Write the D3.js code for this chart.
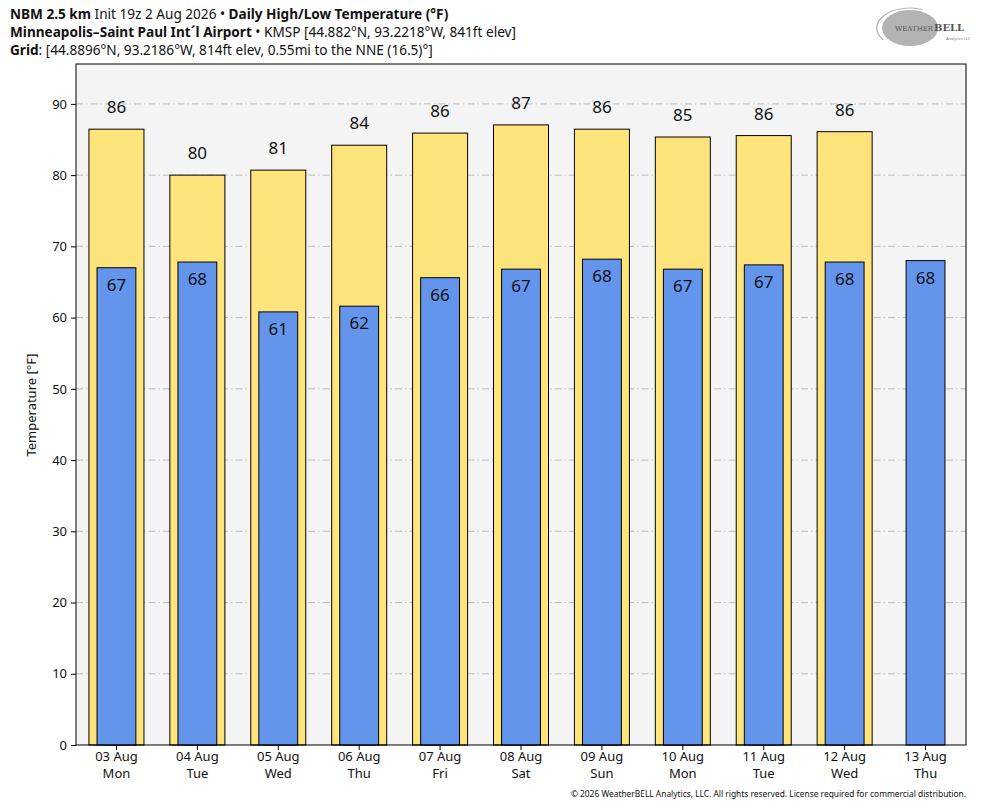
<!DOCTYPE html>
<html><head><meta charset="utf-8">
<script src="https://cdn.jsdelivr.net/npm/d3@7"></script>
<style>body{margin:0;background:#fff;font-family:"Noto Sans",sans-serif;}</style>
</head><body>
<svg id="c" width="984" height="808"></svg>
<script>
const dates = ["03 Aug","04 Aug","05 Aug","06 Aug","07 Aug","08 Aug","09 Aug","10 Aug","11 Aug","12 Aug","13 Aug"];
const days = ["Mon","Tue","Wed","Thu","Fri","Sat","Sun","Mon","Tue","Wed","Thu"];
const highs = [86.45,80.0,80.7,84.2,85.9,87.05,86.45,85.35,85.55,86.1,null];
const lows = [67.0,67.8,60.8,61.6,65.6,66.8,68.2,66.8,67.4,67.8,68.0];
const yTicks = [0,10,20,30,40,50,60,70,80,90];

const svg = d3.select("#c");
const L=76,R=966,T=64,B=745;
const x = d3.scaleBand().domain(d3.range(dates.length)).range([L,R]).padding(0);
const y = d3.scaleLinear().domain([0,95.6]).range([B,T]);
const bw = x.bandwidth();

svg.append("rect").attr("x",L).attr("y",T).attr("width",R-L).attr("height",B-T).attr("fill","#f4f4f4");
svg.append("g").selectAll("line").data(yTicks.filter(d=>d>0)).join("line")
  .attr("x1",L).attr("x2",R).attr("y1",d=>y(d)).attr("y2",d=>y(d))
  .attr("stroke","#bdbdbd").attr("stroke-width",1).attr("stroke-dasharray","7,3,1.5,3");

const hw = bw*0.68, lw = bw*0.48;
svg.append("g").selectAll("rect").data(highs.map((v,i)=>({v,i})).filter(d=>d.v!=null)).join("rect")
  .attr("x",d=>x(d.i)+bw/2-hw/2).attr("width",hw).attr("y",d=>y(d.v)).attr("height",d=>y(0)-y(d.v))
  .attr("fill","#ffe47c").attr("stroke","#000").attr("stroke-width",1);
svg.append("g").selectAll("rect").data(lows.map((v,i)=>({v,i}))).join("rect")
  .attr("x",d=>x(d.i)+bw/2-lw/2).attr("width",lw).attr("y",d=>y(d.v)).attr("height",d=>y(0)-y(d.v))
  .attr("fill","#6495ed").attr("stroke","#000").attr("stroke-width",1);

svg.append("g").selectAll("text").data(highs.map((v,i)=>({v,i})).filter(d=>d.v!=null)).join("text")
  .attr("x",d=>x(d.i)+bw/2).attr("y",d=>y(d.v)-16).attr("text-anchor","middle")
  .attr("font-size",17).attr("fill","#111").text(d=>Math.round(d.v));
svg.append("g").selectAll("text").data(lows.map((v,i)=>({v,i}))).join("text")
  .attr("x",d=>x(d.i)+bw/2).attr("y",d=>y(d.v)+23).attr("text-anchor","middle")
  .attr("font-size",17).attr("fill","#111").text(d=>Math.round(d.v));

svg.append("rect").attr("x",L).attr("y",T).attr("width",R-L).attr("height",B-T).attr("fill","none").attr("stroke","#000").attr("stroke-width",1);

const ya = svg.append("g").attr("transform",`translate(${L},0)`).call(d3.axisLeft(y).tickValues(yTicks).tickSize(5).tickPadding(4));
ya.select(".domain").remove();
ya.selectAll("text").attr("font-size",13).attr("font-family","Noto Sans").attr("fill","#111");
const xa = svg.append("g").attr("transform",`translate(0,${B})`).call(d3.axisBottom(x).tickSize(5).tickFormat(""));
xa.select(".domain").remove();
const xl = svg.append("g");
xl.selectAll("text.d").data(dates).join("text").attr("class","d")
  .attr("x",(d,i)=>x(i)+bw/2).attr("y",761).attr("text-anchor","middle").attr("font-size",13).attr("fill","#111").text(d=>d);
xl.selectAll("text.w").data(days).join("text").attr("class","w")
  .attr("x",(d,i)=>x(i)+bw/2).attr("y",778).attr("text-anchor","middle").attr("font-size",13).attr("fill","#111").text(d=>d);
svg.append("text").attr("transform","translate(36,405) rotate(-90)").attr("text-anchor","middle")
  .attr("font-size",13).attr("fill","#111").text("Temperature [°F]");

const t1 = svg.append("text").attr("x",10).attr("y",19).attr("font-size",13.6).attr("fill","#111");
t1.append("tspan").attr("font-weight","bold").text("NBM 2.5 km");
t1.append("tspan").text(" Init 19z 2 Aug 2026 • ");
t1.append("tspan").attr("font-weight","bold").text("Daily High/Low Temperature (°F)");
const t2 = svg.append("text").attr("x",10).attr("y",37).attr("font-size",13.6).attr("fill","#111");
t2.append("tspan").attr("font-weight","bold").text("Minneapolis–Saint Paul Int´l Airport");
t2.append("tspan").text(" • KMSP [44.882°N, 93.2218°W, 841ft elev]");
const t3 = svg.append("text").attr("x",10).attr("y",55).attr("font-size",13.6).attr("fill","#111");
t3.append("tspan").attr("font-weight","bold").text("Grid");
t3.append("tspan").text(": [44.8896°N, 93.2186°W, 814ft elev, 0.55mi to the NNE (16.5)°]");

svg.append("text").attr("x",966).attr("y",797).attr("text-anchor","end").attr("font-size",8.4).attr("fill","#111")
  .text("© 2026 WeatherBELL Analytics, LLC. All rights reserved. License required for commercial distribution.");

// logo
const lg = svg.append("g").attr("transform","translate(910,28)");
lg.append("ellipse").attr("rx",28).attr("ry",18).attr("fill","#9a9a9a").attr("opacity",0.75);
[34,26,19].forEach((r,i)=>lg.append("path").attr("d",d3.arc()({innerRadius:r-1.5,outerRadius:r,startAngle:-2.2+i*0.3,endAngle:0.4+i*0.2}))
  .attr("transform","scale(1,0.6)").attr("fill","#b5b5b5"));
lg.append("text").attr("x",-15).attr("y",3).attr("font-size",7).attr("font-family","DejaVu Serif").attr("fill","#555").text("WEATHER");
lg.append("text").attr("x",24).attr("y",3).attr("font-size",10).attr("font-weight","bold").attr("font-family","DejaVu Serif").attr("fill","#555").text("BELL");
lg.append("text").attr("x",36).attr("y",12).attr("font-size",4).attr("fill","#777").text("Analytics LLC");
</script>
</body></html>
